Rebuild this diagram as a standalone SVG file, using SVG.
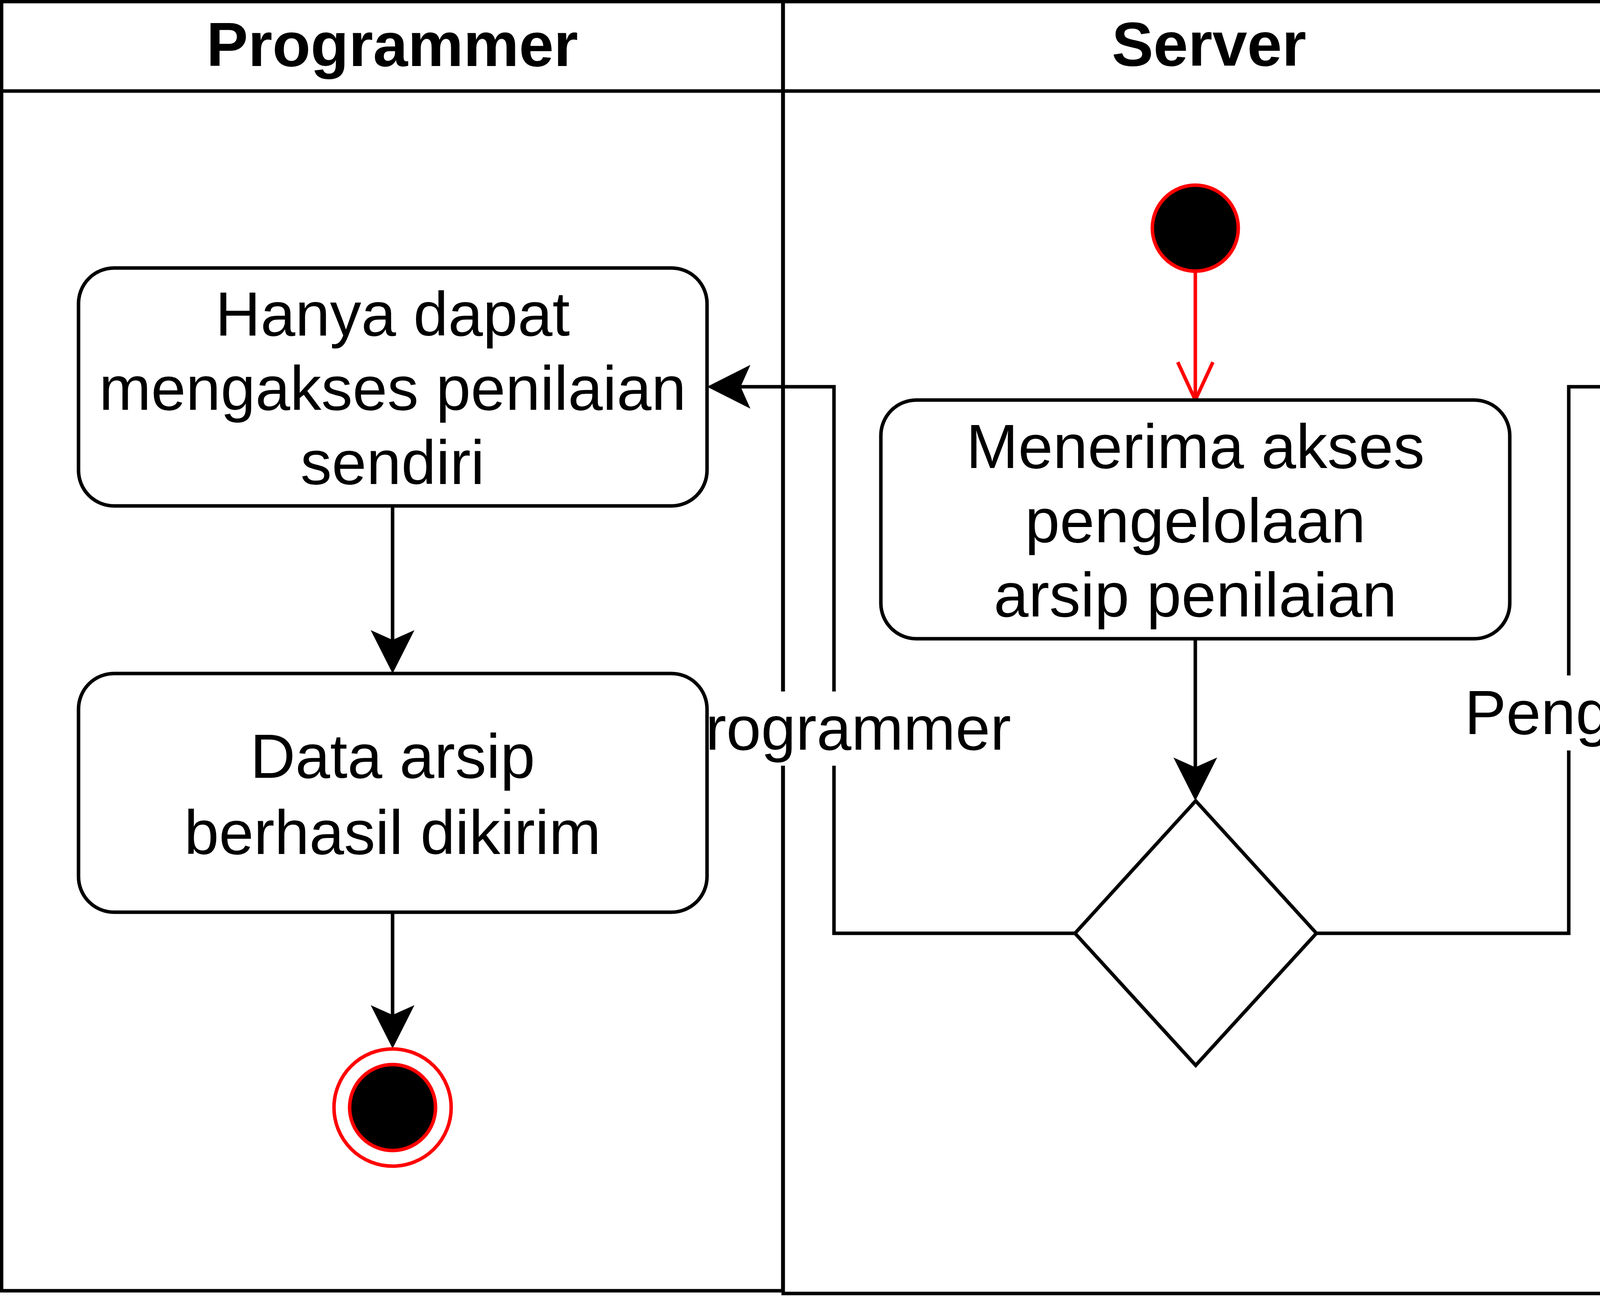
<svg xmlns="http://www.w3.org/2000/svg" width="6200" height="3320" viewBox="0 0 6200 3320">
<style>
.lane{fill:#fff;stroke:#000;stroke-width:9}
.hdr{font-family:"Liberation Sans",Arial,sans-serif;font-weight:bold;font-size:160px;text-anchor:middle;fill:#000}
.box{fill:#fff;stroke:#000;stroke-width:9}
.t{font-family:"Liberation Sans",Arial,sans-serif;font-size:160px;text-anchor:middle;fill:#000}
.edge{fill:none;stroke:#000;stroke-width:9}
.red{fill:none;stroke:#ff0000;stroke-width:9}
.lbl{font-family:"Liberation Sans",Arial,sans-serif;font-size:160px;fill:#000}
</style>
<defs>
<marker id="arr" markerUnits="userSpaceOnUse" orient="auto" overflow="visible" markerWidth="10" markerHeight="10" refX="0" refY="0">
<path d="M86,0 L-25,-56 L0,0 L-25,56 Z" fill="#000" stroke="none"/>
</marker>
<marker id="open" markerUnits="userSpaceOnUse" orient="auto" overflow="visible" markerWidth="10" markerHeight="10" refX="0" refY="0">
<path d="M-97,-45 L0,0 L-97,45" fill="none" stroke="#ff0000" stroke-width="9"/>
</marker>
</defs>
<rect width="6200" height="3320" fill="#fff"/>
<g id="lane-programmer">
<rect class="lane" x="4" y="4" width="2000" height="3300"/>
<line x1="4" y1="233" x2="2004" y2="233" stroke="#000" stroke-width="9"/>
<text class="hdr" x="1004" y="169">Programmer</text>
</g>
<g id="lane-server">
<rect class="lane" x="2005" y="4" width="2181" height="3307"/>
<line x1="2005" y1="233" x2="4186" y2="233" stroke="#000" stroke-width="9"/>
<text class="hdr" x="3095" y="168">Server</text>
</g>
<g id="lane-penguji">
<rect class="lane" x="4186" y="4" width="2005" height="3279"/>
<line x1="4186" y1="233" x2="6191" y2="233" stroke="#000" stroke-width="9"/>
<text class="hdr" x="5188" y="169">Penguji</text>
</g>
<g id="connectors">
<path class="red" d="M3060,698 L3060,1024" marker-end="url(#open)"/>
<path class="edge" d="M3060,1635 L3060,1964" marker-end="url(#arr)"/>
<path class="edge" d="M2752,2389 L2135,2389 L2135,990 L1896,990" marker-end="url(#arr)"/>
<path class="edge" d="M3370,2389 L4016,2389 L4016,990 L4260,990" marker-end="url(#arr)"/>
<path class="edge" d="M1005,1295 L1005,1638" marker-end="url(#arr)"/>
<path class="edge" d="M1005,2335 L1005,2598" marker-end="url(#arr)"/>
<path class="edge" d="M5151,1294 L5151,1618" marker-end="url(#arr)"/>
<path class="edge" d="M5150,2315 L5156.3,2637" marker-end="url(#arr)"/>
<g id="label-programmer">
<rect x="1806" y="1770" width="786" height="190" fill="#fff"/>
<text class="lbl" x="1806" y="1919">rogrammer</text>
</g>
<g id="label-penguji">
<rect x="3749" y="1729" width="534" height="192" fill="#fff"/>
<text class="lbl" x="4016" y="1879" text-anchor="middle">Penguji</text>
</g>
</g>
<g id="start">
<circle cx="3060" cy="584" r="110" fill="#000" stroke="#ff0000" stroke-width="9"/>
</g>
<g id="server-action">
<rect class="box" x="2255" y="1024" width="1610" height="611" rx="91" ry="91"/>
<text class="t" x="3060" y="1198">Menerima akses</text>
<text class="t" x="3060" y="1388">pengelolaan</text>
<text class="t" x="3060" y="1578">arsip penilaian</text>
</g>
<g id="decision">
<polygon points="3061,2050 3370,2389 3061,2727 2752,2389" fill="#fff" stroke="#000" stroke-width="9"/>
</g>
<g id="programmer-access">
<rect class="box" x="201" y="686" width="1609" height="609" rx="91" ry="91"/>
<text class="t" x="1005" y="859">Hanya dapat</text>
<text class="t" x="1005" y="1049">mengakses penilaian</text>
<text class="t" x="1005" y="1239">sendiri</text>
</g>
<g id="programmer-sent">
<rect class="box" x="201" y="1724" width="1609" height="611" rx="91" ry="91"/>
<text class="t" x="1005" y="1991">Data arsip</text>
<text class="t" x="1005" y="2186">berhasil dikirim</text>
</g>
<g id="programmer-end">
<circle cx="1005" cy="2835" r="150" fill="#fff" stroke="#ff0000" stroke-width="9"/>
<circle cx="1005" cy="2835" r="110" fill="#000" stroke="#ff0000" stroke-width="9"/>
</g>
<g id="penguji-access">
<rect class="box" x="4346" y="685" width="1610" height="609" rx="91" ry="91"/>
<text class="t" x="5151" y="859">Dapat mengakses</text>
<text class="t" x="5151" y="1049">seluruh arsip</text>
<text class="t" x="5151" y="1239">penilaian</text>
</g>
<g id="penguji-sent">
<rect class="box" x="4346" y="1704" width="1610" height="611" rx="91" ry="91"/>
<text class="t" x="5151" y="1971">Data arsip</text>
<text class="t" x="5151" y="2166">berhasil dikirim</text>
</g>
<g id="penguji-end">
<circle cx="5150" cy="2874" r="150" fill="#fff" stroke="#ff0000" stroke-width="9"/>
<circle cx="5150" cy="2874" r="110" fill="#000" stroke="#ff0000" stroke-width="9"/>
</g>
</svg>
